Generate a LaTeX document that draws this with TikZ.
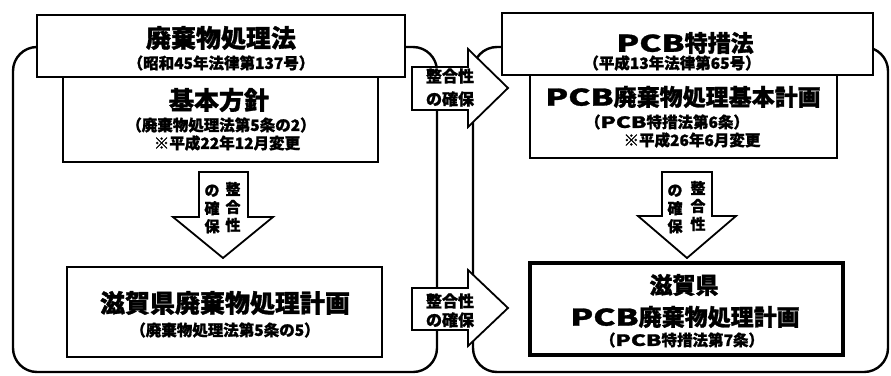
\documentclass[tikz,border=0pt]{standalone}
\usepackage{fontspec}
\usepackage{graphicx}
\newfontfamily\cjk{Noto Sans CJK JP}[BoldFeatures={FakeBold=1.2}]
\newcommand\pcbtxt{\scalebox{1.45}[1]{PCB}}
\tikzset{
  cont/.style={line width=2.4pt, rounded corners=24pt},
  bx/.style={draw, line width=1.8pt, fill=white, inner sep=0pt},
  boldbx/.style={draw, line width=3.8pt, fill=white, inner sep=0pt},
  blk/.style={draw, line width=1.8pt, fill=white, line join=miter},
  bigtxt/.style={font=\cjk\bfseries\fontsize{25}{25}\selectfont, inner sep=0pt},
  midtxt/.style={font=\cjk\bfseries\fontsize{23}{23}\selectfont, inner sep=0pt},
  subtxt/.style={font=\cjk\bfseries\fontsize{15.5}{15.5}\selectfont, inner sep=0pt},
  vtxt/.style={font=\cjk\bfseries\fontsize{15}{18}\selectfont, align=center, inner sep=0pt},
  htxt/.style={font=\cjk\bfseries\fontsize{16}{16}\selectfont, inner sep=0pt}
}
\begin{document}
\begin{tikzpicture}[x=1pt,y=-1pt]
\useasboundingbox (0,0) rectangle (891,375);
% containers
\draw[cont] (13,47) rectangle (437,372);
\draw[cont] (473,47) rectangle (888,372);

% left column boxes
\node[bx, minimum width=368pt, minimum height=62pt] (t1) at (221,46) {};
\node[bx, minimum width=315pt, minimum height=85pt] (b1) at (220.5,119.5) {};
\node[bx, minimum width=315pt, minimum height=90pt] (p1) at (224.5,312) {};

% right column boxes
\node[bx, minimum width=371pt, minimum height=62pt] (t2) at (687.5,44) {};
\node[bx, minimum width=307pt, minimum height=83pt] (b2) at (683.5,116.5) {};
\node[boldbx, minimum width=313pt, minimum height=92pt] (p2) at (686.5,309) {};

% block arrows (vertical)
\draw[blk] (199,172) -- (248,172) -- (248,217) -- (273,217) -- (223,258) -- (173,217) -- (199,217) -- cycle;
\draw[blk] (662,172) -- (712,172) -- (712,216) -- (736,216) -- (687,258) -- (638,216) -- (662,216) -- cycle;
% block arrows (horizontal)
\draw[blk] (412,67) -- (468,67) -- (468,49) -- (508,88) -- (468,127) -- (468,110) -- (412,110) -- cycle;
\draw[blk] (412,288) -- (468,288) -- (468,270) -- (508,308) -- (468,346) -- (468,330) -- (412,330) -- cycle;

% texts left
\node[bigtxt] (t1a) at (221,38) {廃棄物処理法};
\node[subtxt] (t1b) at (221,63) {（昭和45年法律第137号）};
\node[bigtxt] (b1a) at (219,100) {基本方針};
\node[subtxt] (b1b) at (221,125) {（廃棄物処理法第5条の2）};
\node[subtxt] (b1c) at (227,143) {※平成22年12月変更};
\node[bigtxt] (p1a) at (225,303) {滋賀県廃棄物処理計画};
\node[subtxt] (p1b) at (225,330) {（廃棄物処理法第5条の5）};

% texts right
\node[midtxt] (t2a) at (685,43) {\pcbtxt 特措法};
\node[subtxt] (t2b) at (672,63) {（平成13年法律第65号）};
\node[midtxt] (b2a) at (683,97) {\pcbtxt 廃棄物処理基本計画};
\node[subtxt] (b2b) at (667,122) {（\pcbtxt 特措法第6条）};
\node[subtxt] (b2c) at (692,140) {※平成26年6月変更};
\node[midtxt] (p2a) at (684,285) {滋賀県};
\node[midtxt] (p2b) at (685,317) {\pcbtxt 廃棄物処理計画};
\node[subtxt] (p2c) at (682,340) {（\pcbtxt 特措法第7条）};

% arrow labels
\node[vtxt] (v1r) at (233,207) {整\\合\\性};
\node[vtxt] (v1l) at (212,209) {の\\確\\保};
\node[vtxt] (v2r) at (698,206) {整\\合\\性};
\node[vtxt] (v2l) at (675,209) {の\\確\\保};
\node[htxt] (h1a) at (450,76) {整合性};
\node[htxt] (h1b) at (450,99) {の確保};
\node[htxt] (h2a) at (450,301) {整合性};
\node[htxt] (h2b) at (450,320) {の確保};
\end{tikzpicture}
\end{document}
